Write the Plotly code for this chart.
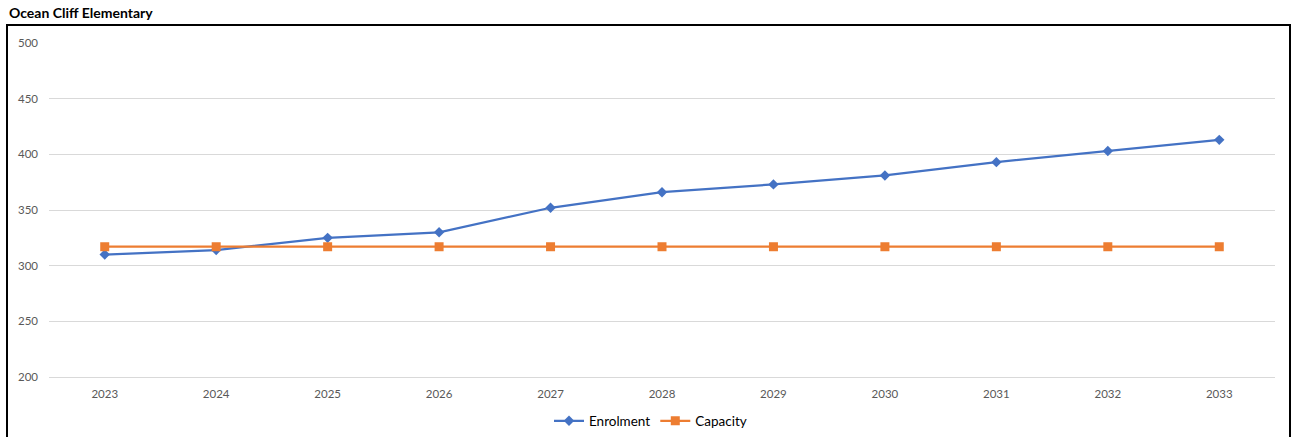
import plotly.graph_objects as go

# School enrolment projection vs. building capacity
years = ["2023", "2024", "2025", "2026", "2027", "2028", "2029", "2030", "2031", "2032", "2033"]
enrolment = [310, 314, 325, 330, 352, 366, 373, 381, 393, 403, 413]
capacity = [317, 317, 317, 317, 317, 317, 317, 317, 317, 317, 317]
y_ticks = [200, 250, 300, 350, 400, 450, 500]

W, H = 1301, 437
ml, mr, mt, mb = 49, 26, 43, 60
pw, ph = W - ml - mr, H - mt - mb

def px_x(x):
    return (x - ml) / pw

def px_y(y):
    return (H - mb - y) / ph

font_family = "Lato, 'Liberation Sans', sans-serif"

fig = go.Figure()
fig.add_trace(go.Scatter(
    x=years, y=enrolment, name="Enrolment", mode="lines+markers",
    line=dict(color="#4472C4", width=2.25),
    marker=dict(symbol="diamond", size=8, color="#4472C4"),
))
fig.add_trace(go.Scatter(
    x=years, y=capacity, name="Capacity", mode="lines+markers",
    line=dict(color="#ED7D31", width=2.25),
    marker=dict(symbol="square", size=9, color="#ED7D31"),
))

fig.update_layout(
    width=W, height=H,
    margin=dict(l=ml, r=mr, t=mt, b=mb, autoexpand=False),
    paper_bgcolor="white", plot_bgcolor="white",
    font=dict(family=font_family, size=11, color="#595959"),
    showlegend=True,
    legend=dict(
        orientation="h", x=0.5, xanchor="center", xref="container",
        y=1 - 421 / H, yanchor="middle", yref="container",
        font=dict(size=13.5, color="#000000"),
        itemwidth=30, tracegroupgap=0,
    ),
    xaxis=dict(
        type="category", range=[-0.5, len(years) - 0.5],
        showgrid=False, zeroline=False,
        showline=True, linecolor="#d9d9d9", linewidth=1,
        ticks="", ticklabelstandoff=6,
        tickfont=dict(size=11.5, color="#595959"),
        fixedrange=True,
    ),
    yaxis=dict(
        range=[200, 500], tickvals=y_ticks, showgrid=True,
        gridcolor="#d9d9d9", gridwidth=1, zeroline=False,
        showline=False, ticks="", ticklabelstandoff=10,
        tickfont=dict(size=11.5, color="#595959"),
        fixedrange=True,
    ),
    shapes=[
        dict(type="rect", xref="paper", yref="paper",
             x0=px_x(7), x1=px_x(1290), y0=px_y(H + 30), y1=px_y(25),
             line=dict(color="black", width=2), fillcolor="rgba(0,0,0,0)",
             layer="above"),
    ],
    annotations=[
        dict(text="<b>Ocean Cliff Elementary</b>", xref="paper", yref="paper",
             x=px_x(7), y=px_y(12), xanchor="left", yanchor="middle",
             showarrow=False, font=dict(size=14, color="#000000")),
    ],
)

fig.write_html("out.html")
